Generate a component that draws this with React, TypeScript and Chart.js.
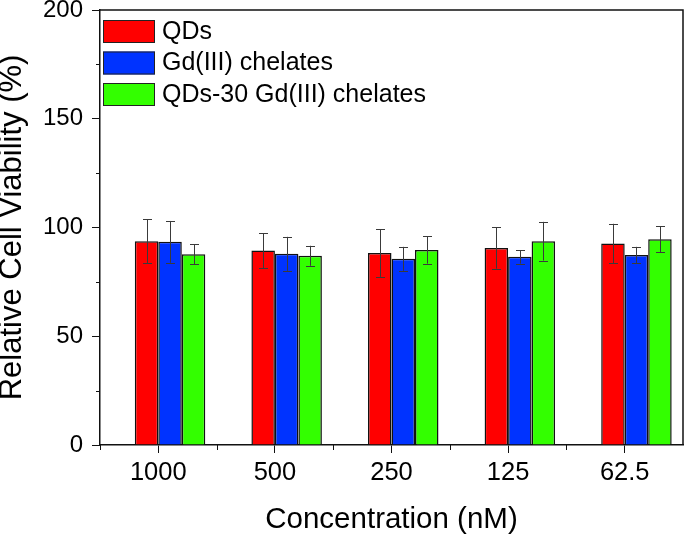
import React, { useEffect, useRef } from "react";
import { Chart, registerables } from "chart.js";

Chart.register(...registerables);

const categories = ["1000", "500", "250", "125", "62.5"];
const seriesNames = ["QDs", "Gd(III) chelates", "QDs-30 Gd(III) chelates"];
const qdsValues = [93.7, 89.4, 88.3, 90.6, 92.6];
const qdsErrors = [10.0, 8.0, 11.0, 9.5, 9.1];
const gdValues = [93.4, 87.9, 85.6, 86.5, 87.4];
const gdErrors = [9.6, 7.8, 5.5, 3.1, 3.7];
const comboValues = [87.7, 87.0, 89.7, 93.7, 94.6];
const comboErrors = [4.6, 4.6, 6.3, 8.9, 5.9];
const yTicks = [0, 50, 100, 150, 200];
const yMinorTicks = [25, 75, 125, 175];

const colors = ["#FF0000", "#0033FF", "#33FF00"];
const FONT = "'Liberation Sans', Arial, sans-serif";

const errorBarsPlugin = {
  id: "errorBars",
  afterDatasetsDraw(chart: any) {
    const ctx = chart.ctx;
    const yScale = chart.scales.y;
    chart.data.datasets.forEach((ds: any, di: number) => {
      if (!ds.errors) return;
      const meta = chart.getDatasetMeta(di);
      meta.data.forEach((el: any, i: number) => {
        const v = ds.data[i];
        const e = ds.errors[i];
        if (v == null) return;
        const yt = yScale.getPixelForValue(v + e);
        const yb = yScale.getPixelForValue(v - e);
        const x = Math.round(el.x) + 0.5;
        ctx.save();
        ctx.strokeStyle = "#3a3a3a";
        ctx.lineWidth = 1;
        ctx.beginPath();
        ctx.moveTo(x, yt);
        ctx.lineTo(x, yb);
        ctx.moveTo(x - 4.5, Math.round(yt) + 0.5);
        ctx.lineTo(x + 4.5, Math.round(yt) + 0.5);
        ctx.moveTo(x - 4.5, Math.round(yb) + 0.5);
        ctx.lineTo(x + 4.5, Math.round(yb) + 0.5);
        ctx.stroke();
        ctx.restore();
      });
    });
  },
};

const framePlugin = {
  id: "frame",
  afterDraw(chart: any) {
    const ctx = chart.ctx;
    const { left, right, top, bottom } = chart.chartArea;
    const x = chart.scales.x;
    const y = chart.scales.y;
    ctx.save();
    ctx.strokeStyle = "#111";
    ctx.lineWidth = 1.5;
    ctx.beginPath();
    ctx.moveTo(left, top);
    ctx.lineTo(right, top);
    ctx.lineTo(right, bottom);
    ctx.stroke();
    ctx.lineWidth = 1;
    ctx.beginPath();
    yMinorTicks.forEach((v) => {
      const py = Math.round(y.getPixelForValue(v)) + 0.5;
      ctx.moveTo(left - 4, py);
      ctx.lineTo(left, py);
    });
    for (let i = 0; i < categories.length; i++) {
      const p0 = x.getPixelForValue(i);
      if (i === 0) {
        const pm = Math.round(left) + 0.5;
        ctx.moveTo(pm, bottom);
        ctx.lineTo(pm, bottom + 5);
      }
      if (i + 1 < categories.length) {
        const p1 = x.getPixelForValue(i + 1);
        const mid = Math.round((p0 + p1) / 2) + 0.5;
        ctx.moveTo(mid, bottom);
        ctx.lineTo(mid, bottom + 5);
      }
    }
    ctx.stroke();
    ctx.font = `25px ${FONT}`;
    ctx.textBaseline = "middle";
    ctx.textAlign = "left";
    seriesNames.forEach((name, i) => {
      const by = 20 + i * 31.5;
      ctx.fillStyle = colors[i];
      ctx.fillRect(103, by, 52, 23);
      ctx.strokeStyle = "#222";
      ctx.lineWidth = 1;
      ctx.strokeRect(103.5, by + 0.5, 51, 22);
      ctx.fillStyle = "#000";
      ctx.fillText(name, 162, by + 12);
    });
    ctx.restore();
  },
};

export default function App() {
  const ref = useRef<HTMLCanvasElement | null>(null);
  useEffect(() => {
    if (!ref.current) return;
    const chart = new Chart(ref.current, {
      type: "bar",
      data: {
        labels: categories,
        datasets: [
          { label: "", data: categories.map(() => null), backgroundColor: "transparent" } as any,
          { label: seriesNames[0], data: qdsValues, errors: qdsErrors, backgroundColor: colors[0] } as any,
          { label: seriesNames[1], data: gdValues, errors: gdErrors, backgroundColor: colors[1] } as any,
          { label: seriesNames[2], data: comboValues, errors: comboErrors, backgroundColor: colors[2] } as any,
        ],
      },
      options: {
        responsive: false,
        animation: false,
        devicePixelRatio: 1,
        layout: { padding: { top: 10, right: 2, left: 0, bottom: 0 } },
        datasets: {
          bar: {
            categoryPercentage: 0.806,
            barPercentage: 1,
            borderColor: "#111",
            borderWidth: 1.5,
          } as any,
        },
        plugins: { legend: { display: false }, tooltip: { enabled: false } },
        scales: {
          x: {
            offset: true,
            grid: { display: true, drawOnChartArea: false, drawTicks: true, tickLength: 8, offset: false, color: "#111" },
            border: { display: true, color: "#111", width: 1.5 },
            ticks: { color: "#000", font: { family: FONT, size: 25.5 }, padding: 5, maxRotation: 0 },
            title: {
              display: true,
              text: "Concentration (nM)",
              color: "#000",
              font: { family: FONT, size: 29.5, lineHeight: 1.2 },
              padding: 0,
            },
            afterFit: (s: any) => { s.height = 93; s.paddingLeft = 0; s.paddingRight = 0; },
          },
          y: {
            min: 0,
            max: 200,
            afterBuildTicks: (s: any) => { s.ticks = yTicks.map((v) => ({ value: v })); },
            grid: { display: true, drawOnChartArea: false, drawTicks: true, tickLength: 8, color: "#111" },
            border: { display: true, color: "#111", width: 1.5 },
            ticks: { color: "#000", font: { family: FONT, size: 24 }, padding: 9 },
            title: {
              display: true,
              text: "Relative Cell Viability (%)",
              color: "#000",
              font: { family: FONT, size: 31, lineHeight: 0.8 },
              padding: 0,
            },
            afterFit: (s: any) => { s.width = 100; s.paddingTop = 0; s.paddingBottom = 0; },
          },
        },
      },
      plugins: [errorBarsPlugin, framePlugin],
    });
    return () => chart.destroy();
  }, []);
  return (
    <div style={{ position: "fixed", left: 0, top: 0, width: 685, height: 538, background: "#fff" }}>
      <canvas ref={ref} width={685} height={538} style={{ display: "block" }} />
    </div>
  );
}
